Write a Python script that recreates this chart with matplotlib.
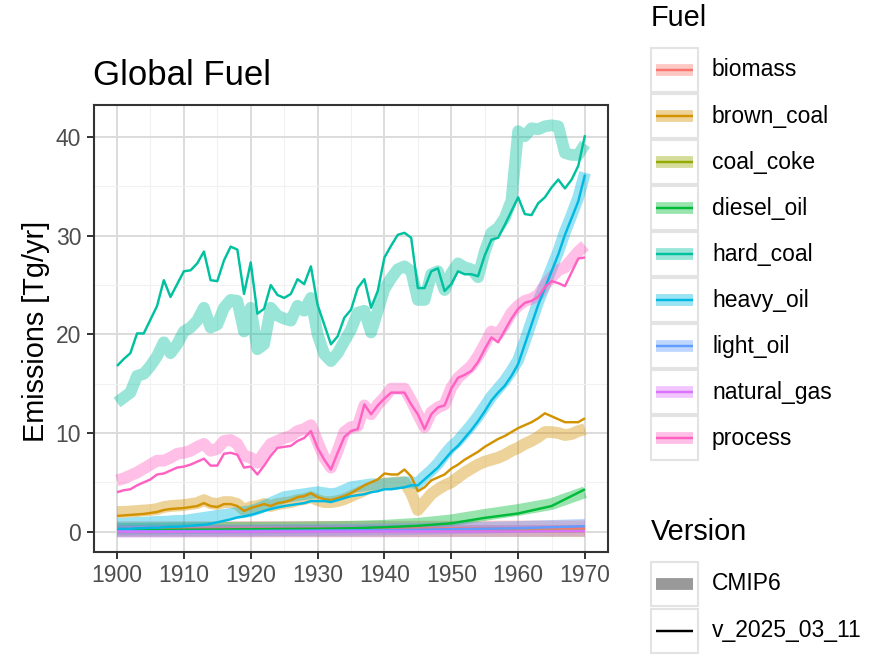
import numpy as np
import matplotlib
matplotlib.use('Agg')
import matplotlib.pyplot as plt
from matplotlib.patches import Rectangle

plt.rcParams['font.family'] = ['Liberation Sans', 'DejaVu Sans']

# ---- data (Tg/yr) ----
years = np.arange(1900, 1971)
years5 = np.arange(1900, 1971, 5)

hard_coal_new = [16.8, 17.5, 18.1, 20.1, 20.1, 21.5, 22.9, 25.5, 23.8, 25.1,
                 26.4, 26.5, 27.2, 28.4, 25.5, 25.4, 27.5, 28.9, 28.6, 24.1,
                 27.3, 22.1, 22.6, 25.0, 24.0, 23.7, 24.1, 25.6, 25.1, 26.9,
                 23.0, 21.0, 19.0, 19.8, 21.7, 22.5, 24.7, 25.6, 22.7, 24.4,
                 27.8, 29.0, 30.1, 30.3, 29.8, 24.7, 24.7, 26.4, 26.7, 24.4,
                 25.1, 26.4, 26.1, 26.1, 25.9, 28.0, 29.6, 29.8, 31.1, 32.5,
                 33.9, 32.2, 32.1, 33.3, 33.9, 34.9, 35.7, 34.8, 35.7, 37.1, 40.2]
hard_coal_cmip = [13.1, 13.6, 14.1, 15.8, 16.0, 16.8, 17.8, 19.2, 18.1, 19.0,
                  20.3, 20.7, 21.4, 22.7, 20.7, 21.0, 22.7, 23.5, 23.4, 20.3,
                  22.7, 18.5, 19.0, 22.7, 21.9, 21.6, 21.4, 22.9, 22.4, 23.7,
                  20.0, 18.0, 17.3, 18.1, 19.3, 20.5, 22.2, 22.4, 20.2, 22.4,
                  24.6, 25.7, 26.6, 26.9, 26.4, 23.5, 23.5, 26.1, 26.4, 24.5,
                  26.2, 27.2, 26.8, 26.6, 25.8, 28.4, 30.3, 30.8, 31.8, 33.6,
                  40.6, 40.1, 40.9, 40.8, 41.1, 41.2, 41.1, 38.4, 38.2, 38.2, 39.3]

process_new = [4.0, 4.2, 4.3, 4.7, 5.0, 5.3, 5.8, 5.9, 6.2, 6.5,
               6.6, 6.8, 7.1, 7.4, 6.7, 6.7, 7.9, 8.0, 7.8, 6.5,
               6.6, 5.8, 6.7, 7.7, 8.5, 8.6, 8.7, 9.2, 9.5, 10.2,
               8.5, 7.3, 6.3, 8.0, 9.6, 10.2, 10.4, 12.9, 11.9, 12.8,
               13.5, 14.1, 14.1, 14.1, 12.9, 11.9, 10.4, 11.9, 12.6, 12.8,
               14.5, 15.6, 15.9, 16.3, 17.2, 18.5, 19.7, 19.2, 20.4, 21.6,
               22.6, 23.2, 23.4, 23.8, 24.8, 25.4, 25.2, 24.9, 26.3, 27.7, 27.8]
process_cmip = [5.2, 5.4, 5.7, 6.0, 6.4, 6.8, 7.2, 7.2, 7.5, 7.9,
                8.0, 8.2, 8.6, 8.9, 8.2, 8.4, 9.2, 9.3, 8.9, 7.7,
                7.5, 7.0, 8.0, 8.9, 9.2, 9.5, 9.7, 10.2, 10.4, 10.8,
                9.1, 7.5, 6.5, 8.2, 10.1, 10.6, 10.7, 12.8, 11.9, 12.9,
                13.6, 14.5, 14.5, 14.5, 13.3, 11.9, 10.6, 12.1, 12.6, 12.9,
                14.6, 15.6, 16.2, 16.8, 17.8, 19.0, 20.3, 20.0, 21.0, 22.2,
                22.9, 23.4, 23.6, 24.0, 25.0, 25.8, 26.5, 26.8, 27.6, 28.4, 29.0]

heavy_oil_new = [0.3, 0.3, 0.3, 0.35, 0.35, 0.4, 0.4, 0.45, 0.5, 0.5,
                 0.55, 0.6, 0.65, 0.7, 0.8, 0.95, 1.1, 1.25, 1.45, 1.55,
                 1.7, 1.9, 2.1, 2.3, 2.45, 2.6, 2.7, 2.8, 2.9, 3.1,
                 3.1, 3.1, 3.0, 3.2, 3.4, 3.6, 3.7, 3.8, 4.0, 4.1,
                 4.3, 4.3, 4.4, 4.5, 4.7, 4.7, 5.3, 5.9, 6.5, 7.3,
                 8.1, 8.7, 9.5, 10.3, 11.2, 12.2, 13.3, 14.1, 14.8, 15.8,
                 17.0, 19.0, 21.0, 23.0, 24.7, 26.4, 28.1, 30.1, 31.8, 33.5, 36.2]
heavy_oil_cmip = [0.8, 0.8, 0.85, 0.9, 0.9, 0.95, 1.0, 1.0, 1.05, 1.1,
                  1.1, 1.2, 1.3, 1.4, 1.5, 1.6, 1.7, 1.8, 1.9, 2.0,
                  2.1, 2.3, 2.6, 2.9, 3.2, 3.5, 3.6, 3.7, 3.8, 3.9,
                  4.0, 3.9, 3.8, 3.9, 4.2, 4.5, 4.6, 4.7, 4.8, 4.8,
                  4.8, 4.9, 4.9, 5.0, 5.0, 4.9, 5.6, 6.2, 6.9, 7.8,
                  8.6, 9.2, 10.0, 10.8, 11.7, 12.7, 13.7, 14.5, 15.3, 16.3,
                  17.4, 19.3, 21.3, 23.3, 25.0, 26.7, 28.4, 30.4, 32.1, 33.9, 36.4]

brown_coal_new = [1.6, 1.65, 1.7, 1.75, 1.8, 1.9, 2.0, 2.2, 2.3, 2.35,
                  2.4, 2.5, 2.6, 2.9, 2.6, 2.5, 2.8, 2.8, 2.6, 2.1,
                  2.4, 2.6, 2.8, 2.6, 2.9, 3.0, 3.2, 3.5, 3.6, 3.9,
                  3.5, 3.3, 3.2, 3.4, 3.6, 3.9, 4.3, 4.7, 5.0, 5.3,
                  5.9, 5.8, 5.8, 6.3, 5.6, 4.1, 4.5, 5.2, 5.5, 5.8,
                  6.4, 6.8, 7.3, 7.7, 8.1, 8.6, 9.0, 9.4, 9.7, 10.1,
                  10.5, 10.8, 11.1, 11.5, 12.0, 11.7, 11.4, 11.1, 11.1, 11.1, 11.5]
brown_coal_cmip = [2.0, 2.0, 2.05, 2.1, 2.15, 2.2, 2.3, 2.5, 2.6, 2.65,
                   2.7, 2.8, 2.9, 3.2, 2.9, 2.8, 3.0, 3.0, 2.8, 2.2,
                   2.5, 2.6, 2.8, 2.6, 2.8, 2.9, 3.0, 3.2, 3.3, 3.5,
                   3.2, 3.0, 3.0, 3.1, 3.3, 3.6, 3.9, 4.2, 4.5, 4.7,
                   4.9, 4.9, 5.0, 5.0, 3.9, 2.2, 3.0, 3.8, 4.3, 4.7,
                   5.0, 5.5, 6.0, 6.4, 6.8, 7.1, 7.3, 7.5, 7.8, 8.2,
                   8.5, 8.9, 9.2, 9.6, 10.1, 10.1, 10.0, 9.8, 9.9, 10.2, 10.4]

# small series, read every 5 years
diesel_oil_new = [0.15, 0.18, 0.2, 0.22, 0.25, 0.28, 0.3, 0.35, 0.45, 0.6, 0.85, 1.4, 1.85, 2.6, 4.3]
diesel_oil_cmip = [0.3, 0.32, 0.35, 0.38, 0.4, 0.42, 0.45, 0.5, 0.6, 0.8, 1.15, 1.7, 2.2, 2.8, 4.0]
biomass_new = [0.28, 0.28, 0.29, 0.29, 0.3, 0.3, 0.3, 0.31, 0.31, 0.32, 0.32, 0.33, 0.33, 0.34, 0.35]
biomass_cmip = [0.45, 0.45, 0.46, 0.46, 0.47, 0.47, 0.48, 0.48, 0.49, 0.5, 0.5, 0.51, 0.52, 0.53, 0.55]
coal_coke_new = [0.02] * 15
coal_coke_cmip = [0.05] * 15
light_oil_new = [0.05, 0.05, 0.06, 0.07, 0.08, 0.1, 0.12, 0.14, 0.16, 0.2, 0.25, 0.3, 0.35, 0.45, 0.55]
light_oil_cmip = [0.1, 0.1, 0.11, 0.12, 0.14, 0.16, 0.18, 0.2, 0.24, 0.28, 0.34, 0.4, 0.48, 0.58, 0.7]
natural_gas_new = [0.0, 0.0, 0.0, 0.0, 0.0, 0.01, 0.01, 0.01, 0.02, 0.02, 0.02, 0.03, 0.03, 0.04, 0.05]
natural_gas_cmip = [0.0, 0.0, 0.0, 0.01, 0.01, 0.02, 0.02, 0.03, 0.03, 0.04, 0.05, 0.06, 0.07, 0.08, 0.1]

fuels = ['biomass', 'brown_coal', 'coal_coke', 'diesel_oil', 'hard_coal',
         'heavy_oil', 'light_oil', 'natural_gas', 'process']
fuel_colors = ['#F8766D', '#D39200', '#93AA00', '#00BA38', '#00C19F',
               '#00B9E3', '#619CFF', '#DB72FB', '#FF61C3']
versions = ['CMIP6', 'v_2025_03_11']

series = {
    'biomass': (years5, biomass_cmip, biomass_new),
    'brown_coal': (years, brown_coal_cmip, brown_coal_new),
    'coal_coke': (years5, coal_coke_cmip, coal_coke_new),
    'diesel_oil': (years5, diesel_oil_cmip, diesel_oil_new),
    'hard_coal': (years, hard_coal_cmip, hard_coal_new),
    'heavy_oil': (years, heavy_oil_cmip, heavy_oil_new),
    'light_oil': (years5, light_oil_cmip, light_oil_new),
    'natural_gas': (years5, natural_gas_cmip, natural_gas_new),
    'process': (years, process_cmip, process_new),
}

W, H = 874, 656
THICK, THIN, ALPHA = 8.5, 1.75, 0.4
fig = plt.figure(figsize=(W / 100, H / 100), dpi=100)
ax = fig.add_axes([93.6 / W, 1 - 552 / H, (608.4 - 93.6) / W, (552 - 105) / H])

for fuel, col in zip(fuels, fuel_colors):
    x, yc, yn = series[fuel]
    ax.plot(x, yc, color=col, lw=THICK, alpha=ALPHA,
            solid_capstyle='butt', solid_joinstyle='round', zorder=2)
for fuel, col in zip(fuels, fuel_colors):
    x, yc, yn = series[fuel]
    ax.plot(x, yn, color=col, lw=THIN,
            solid_capstyle='butt', solid_joinstyle='round', zorder=3)

ax.set_xlim(1896.5, 1973.5)
ax.set_ylim(-2.06, 43.26)
ax.set_xticks(range(1900, 1971, 10))
ax.set_xticks(range(1905, 1970, 10), minor=True)
ax.set_yticks([0, 10, 20, 30, 40])
ax.set_yticks([5, 15, 25, 35], minor=True)
ax.grid(which='major', color='#dcdcdc', lw=1.4, zorder=0)
ax.grid(which='minor', color='#f1f1f1', lw=0.8, zorder=0)
ax.set_axisbelow(True)
for s in ax.spines.values():
    s.set_color('#333333')
    s.set_linewidth(1.5)
ax.tick_params(which='major', direction='out', length=5, width=1.4,
               color='#333333', labelcolor='#4d4d4d', labelsize=16.5, pad=4)
ax.tick_params(which='minor', length=0)

fig.text(93 / W, 1 - 85 / H, 'Global Fuel', fontsize=25, ha='left', va='baseline')
fig.text(36 / W, 1 - 331 / H, 'Emissions [Tg/yr]', fontsize=20.8,
         rotation=90, ha='center', va='center')

# ---- legend drawn in pixel coordinates ----
lax = fig.add_axes([0, 0, 1, 1])
lax.set_xlim(0, W)
lax.set_ylim(H, 0)
lax.axis('off')
lax.patch.set_alpha(0)

kx0, kx1 = 651, 698
lax.text(kx0, 18, 'Fuel', fontsize=20.8, ha='left', va='center')
for i, (fuel, col) in enumerate(zip(fuels, fuel_colors)):
    cy = 70 + i * 46
    lax.add_patch(Rectangle((kx0, cy - 22), kx1 - kx0, 44, facecolor='white',
                            edgecolor='#e3e3e3', lw=1.5))
    lax.plot([kx0 + 5, kx1 - 5], [cy, cy], color=col, lw=THICK, alpha=ALPHA,
             solid_capstyle='butt')
    lax.plot([kx0 + 5, kx1 - 5], [cy, cy], color=col, lw=THIN, solid_capstyle='butt')
    lax.text(712, cy, fuel, fontsize=16.5, ha='left', va='center')

lax.text(kx0, 532, 'Version', fontsize=20.8, ha='left', va='center')
for i, (ver, lw, a) in enumerate(zip(versions, [THICK, THIN], [ALPHA, 1.0])):
    cy = 584 + i * 47
    lax.add_patch(Rectangle((kx0, cy - 22), kx1 - kx0, 44, facecolor='white',
                            edgecolor='#e3e3e3', lw=1.5))
    lax.plot([kx0 + 5, kx1 - 5], [cy, cy], color='black', lw=lw, alpha=a,
             solid_capstyle='butt')
    lax.text(712, cy, ver, fontsize=16.5, ha='left', va='center')

fig.savefig('out.png', dpi=100, facecolor='white')
